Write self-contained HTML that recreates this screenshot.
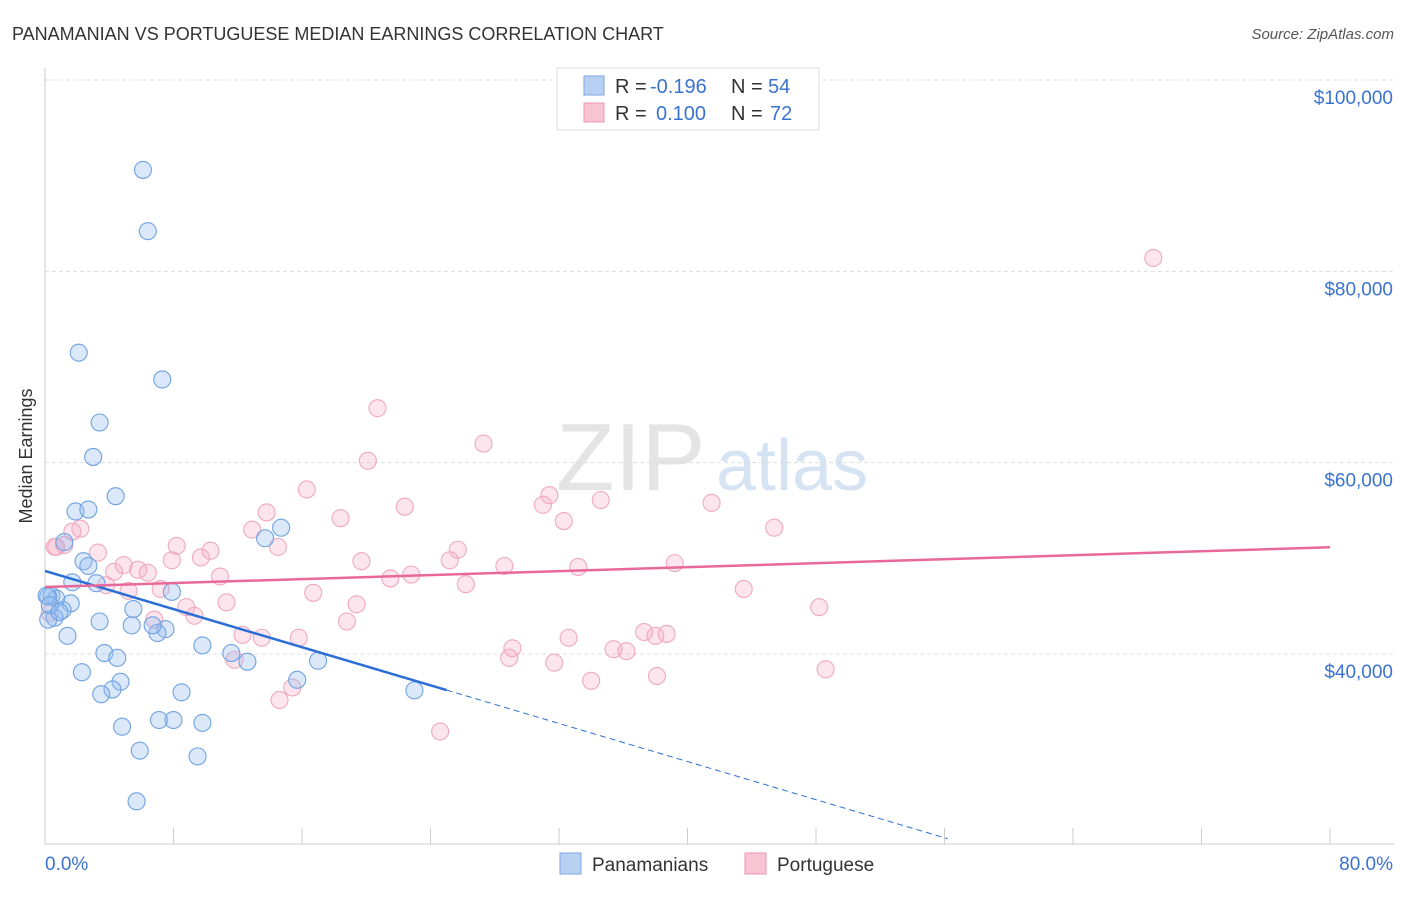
<!DOCTYPE html>
<html><head><meta charset="utf-8"><style>
body{margin:0;background:#fff;font-family:"Liberation Sans",sans-serif;}
svg text{font-family:"Liberation Sans",sans-serif;}
</style></head><body>
<svg id="c" width="1406" height="892">
<text x="12" y="40" font-size="18" fill="#333">PANAMANIAN VS PORTUGUESE MEDIAN EARNINGS CORRELATION CHART</text>
<text x="1394" y="39" font-size="15" fill="#555" font-style="italic" text-anchor="end">Source: ZipAtlas.com</text>
<text x="32" y="456" font-size="18" fill="#333" text-anchor="middle" transform="rotate(-90 32 456)">Median Earnings</text>
<text x="556" y="490" font-size="96" fill="#e4e4e4" font-family="Liberation Serif">ZIP</text>
<text x="716" y="490" font-size="72" fill="#d6e3f3">atlas</text>
<g id="grid"></g><g id="pts"></g><g id="lines"></g>
<g>
<rect x="557" y="68" width="262" height="62" fill="#fff" stroke="#ddd"/>
<rect x="584" y="76" width="20" height="19" fill="#b8d1f3" stroke="#7ba6e0"/>
<rect x="584" y="103" width="20" height="19" fill="#f8c3d3" stroke="#ee95b0"/>
<text x="615" y="93" font-size="20" fill="#333">R =</text>
<text x="650" y="93" font-size="20" fill="#3a73cf">-0.196</text>
<text x="731" y="93" font-size="20" fill="#333">N =</text>
<text x="768" y="93" font-size="20" fill="#3a73cf">54</text>
<text x="615" y="120" font-size="20" fill="#333">R =</text>
<text x="656" y="120" font-size="20" fill="#3a73cf">0.100</text>
<text x="731" y="120" font-size="20" fill="#333">N =</text>
<text x="770" y="120" font-size="20" fill="#3a73cf">72</text>
</g>
<g>
<rect x="560" y="853" width="21" height="21" fill="#b8d1f3" stroke="#7ba6e0"/>
<text x="592" y="871" font-size="19" fill="#333">Panamanians</text>
<rect x="745" y="853" width="21" height="21" fill="#f8c3d3" stroke="#ee95b0"/>
<text x="777" y="871" font-size="19" fill="#333">Portuguese</text>
</g>
<text x="45" y="870" font-size="19" fill="#3a73cf">0.0%</text>
<text x="1393" y="870" font-size="19" fill="#3a73cf" text-anchor="end">80.0%</text>
</svg>
<script>
const yTicks=[100000,80000,60000,40000];
const yTickLabels=["$100,000","$80,000","$60,000","$40,000"];
const blueX=[6.1,6.4,2.1,7.3,3.4,3.0,4.4,1.9,2.7,1.2,2.4,2.7,1.7,3.2,0.4,0.7,0.2,1.6,1.1,0.6,0.2,5.5,3.4,1.4,7.9,7.5,7.0,6.7,5.4,14.7,13.7,9.8,11.6,12.6,3.7,4.5,2.3,17.0,15.7,4.7,4.2,3.5,8.5,23.0,4.8,7.1,8.0,9.8,5.9,9.5,5.7,0.1,0.3,0.9];
const blueY=[90.6,84.2,71.5,68.7,64.2,60.6,56.5,54.9,55.1,51.7,49.7,49.2,47.5,47.4,46.1,45.8,46.0,45.3,44.6,43.8,43.6,44.7,43.4,41.9,46.5,42.6,42.2,43.0,43.0,53.2,52.1,40.9,40.1,39.2,40.1,39.6,38.1,39.3,37.3,37.1,36.3,35.8,36.0,36.2,32.4,33.1,33.1,32.8,29.9,29.3,24.6,46.1,45.1,44.4];
const pinkX=[69.0,20.7,27.3,20.1,16.3,31.4,34.6,22.4,31.0,41.5,32.3,45.4,18.4,2.2,12.9,13.8,1.7,0.7,1.2,8.2,10.3,3.3,14.5,25.7,9.7,19.7,25.2,7.9,4.9,5.8,4.3,6.4,28.6,33.2,39.2,21.5,22.8,10.9,3.8,5.2,7.2,16.7,26.2,19.4,43.5,48.2,11.3,8.8,9.3,18.8,6.8,32.6,12.3,13.5,15.8,37.3,38.7,38.0,35.4,36.2,29.1,28.9,31.7,11.8,48.6,38.1,34.0,15.4,14.6,24.6,0.6,0.3];
const pinkY=[81.4,65.7,62.0,60.2,57.2,56.6,56.1,55.4,55.6,55.8,53.9,53.2,54.2,53.1,53.0,54.8,52.8,51.2,51.4,51.3,50.8,50.6,51.2,50.9,50.1,49.7,49.8,49.8,49.3,48.8,48.6,48.5,49.2,49.1,49.5,47.9,48.3,48.1,47.2,46.6,46.8,46.4,47.3,45.2,46.8,44.9,45.4,44.9,44.0,43.4,43.6,41.7,42.0,41.7,41.7,42.3,42.1,41.9,40.5,40.3,40.6,39.6,39.1,39.4,38.4,37.7,37.2,36.5,35.2,31.9,51.2,44.3];
const xOf=p=>45+p/80*1285;
const yOf=v=>80+(100-v)*9.567;
const NS="http://www.w3.org/2000/svg";
function mk(t,a,parent){const e=document.createElementNS(NS,t);for(const k in a)e.setAttribute(k,a[k]);parent.appendChild(e);return e;}
const grid=document.getElementById('grid');
let ax=mk('line',{x1:45,y1:68,x2:45,y2:844,stroke:'#ccc'},grid);


let bx=mk('line',{x1:45,y1:844,x2:1394,y2:844,stroke:'#ccc'},grid);


yTicks.forEach((v,i)=>{const y=yOf(v/1000);
 const g=mk('line',{x1:45,y1:y,x2:1394,y2:y,stroke:'#ddd','stroke-dasharray':'4,3'},grid);
 
 
 const t=mk('text',{x:1393,y:y+24,'font-size':19,fill:'#3a73cf','text-anchor':'end'},grid);t.textContent=yTickLabels[i];
 
 
});
for(let i=1;i<=10;i++){const x=xOf(i*8);
 const t=mk('line',{x1:x,y1:828,x2:x,y2:844,stroke:'#ccc'},grid);
 
 }
const pts=document.getElementById('pts');
pinkX.forEach((x,i)=>{const c=mk('circle',{cx:xOf(x),cy:yOf(pinkY[i]),r:8.5,fill:'rgba(245,170,195,0.3)',stroke:'#f0a8be','stroke-width':1.1},pts);
 
 });
blueX.forEach((x,i)=>{const c=mk('circle',{cx:xOf(x),cy:yOf(blueY[i]),r:8.5,fill:'rgba(150,190,240,0.35)',stroke:'#70a2e2','stroke-width':1.1},pts);
 
 });
const L=document.getElementById('lines');
const bl=x=>48.68-0.498*x, pl=x=>47.0+0.052*x;
let l1=mk('line',{x1:xOf(0),y1:yOf(bl(0)),x2:xOf(25),y2:yOf(bl(25)),stroke:'#2b6fd6','stroke-width':2.5},L);


let l2=mk('line',{x1:xOf(25),y1:yOf(bl(25)),x2:xOf(56.2),y2:yOf(bl(56.2)),stroke:'#2b6fd6','stroke-width':1,'stroke-dasharray':'6,4'},L);


let l3=mk('line',{x1:xOf(0),y1:yOf(pl(0)),x2:xOf(80),y2:yOf(pl(80)),stroke:'#e8689a','stroke-width':2.5},L);


</script>
</body></html>
